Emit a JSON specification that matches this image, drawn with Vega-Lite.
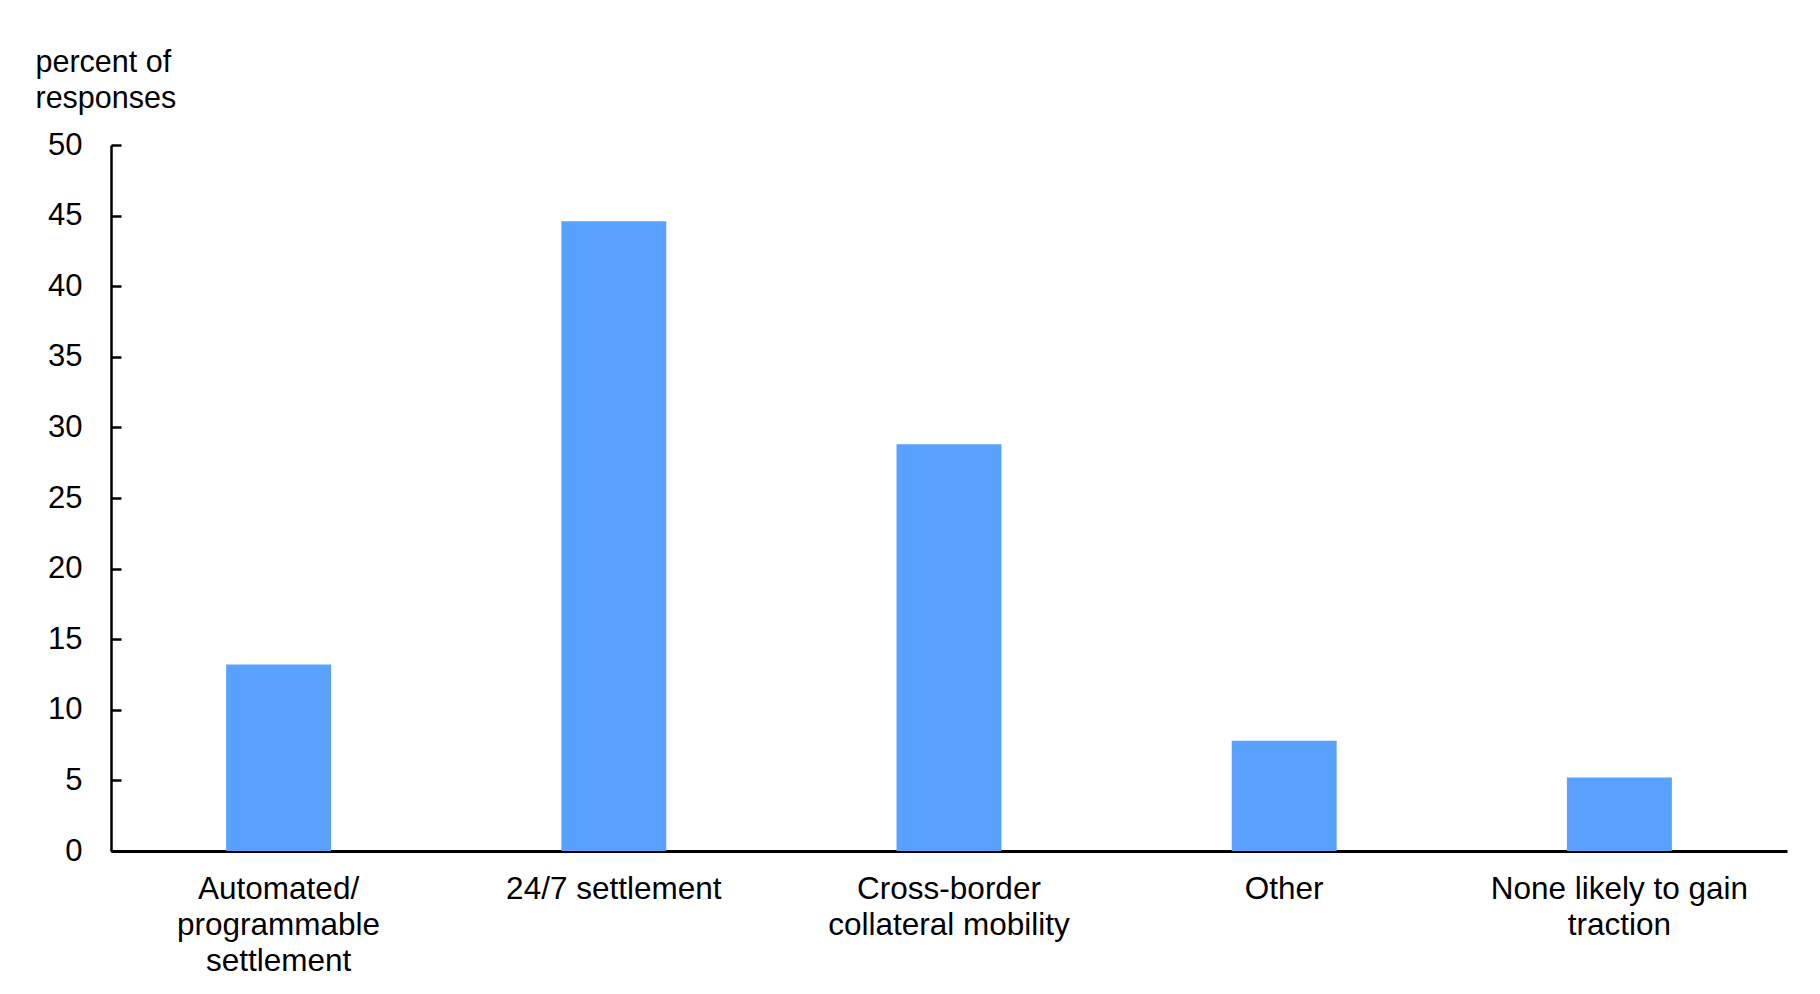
{
  "$schema": "https://vega.github.io/schema/vega-lite/v6.json",
  "width": 1676,
  "height": 706,
  "autosize": {"type": "none"},
  "padding": {"left": 111, "top": 145, "right": 33, "bottom": 143},
  "background": "white",
  "config": {
    "view": {"stroke": null},
    "font": "Liberation Sans"
  },
  "data": {
    "values": [
      {"category": "Automated/ programmable settlement", "percent": 13.2},
      {"category": "24/7 settlement", "percent": 44.6},
      {"category": "Cross-border collateral mobility", "percent": 28.8},
      {"category": "Other", "percent": 7.8},
      {"category": "None likely to gain traction", "percent": 5.2}
    ]
  },
  "mark": {"type": "bar", "color": "#58a1ff"},
  "encoding": {
    "x": {
      "field": "category",
      "type": "nominal",
      "sort": null,
      "scale": {"paddingInner": 0.687, "paddingOuter": 0.3435},
      "axis": {
        "title": null,
        "labelAngle": 0,
        "ticks": false,
        "tickSize": 0,
        "domainColor": "black",
        "domainWidth": 3,
        "labelColor": "black",
        "labelFont": "Liberation Sans",
        "labelFontSize": 31.5,
        "labelLineHeight": 36,
        "labelBaseline": "alphabetic",
        "labelPadding": 47,
        "labelLimit": 0,
        "labelExpr": "datum.value == 'Automated/ programmable settlement' ? ['Automated/', 'programmable', 'settlement'] : datum.value == 'Cross-border collateral mobility' ? ['Cross-border', 'collateral mobility'] : datum.value == 'None likely to gain traction' ? ['None likely to gain', 'traction'] : datum.value"
      }
    },
    "y": {
      "field": "percent",
      "type": "quantitative",
      "scale": {"domain": [0, 50], "nice": false},
      "axis": {
        "values": [0, 5, 10, 15, 20, 25, 30, 35, 40, 45, 50],
        "grid": false,
        "domainColor": "black",
        "domainWidth": 2.5,
        "tickColor": "black",
        "tickWidth": 2.5,
        "tickSize": -10,
        "labelColor": "black",
        "labelFont": "Liberation Sans",
        "labelFontSize": 31,
        "labelPadding": 39,
        "labelBaseline": "middle",
        "title": ["percent of", "responses"],
        "titleAngle": 0,
        "titleAlign": "left",
        "titleBaseline": "alphabetic",
        "titleX": -76,
        "titleY": -74,
        "titleFont": "Liberation Sans",
        "titleFontSize": 30.5,
        "titleFontWeight": "normal",
        "titleLineHeight": 36,
        "titleColor": "black"
      }
    }
  }
}
